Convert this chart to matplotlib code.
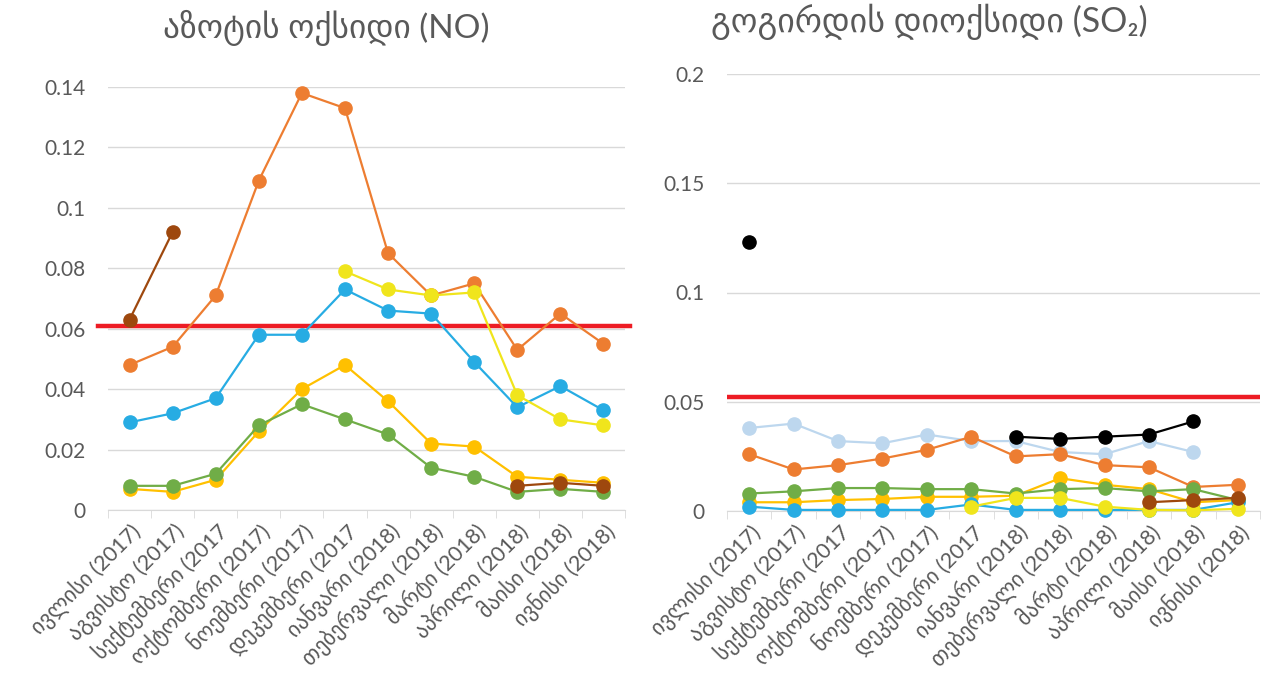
import numpy as np
import matplotlib
matplotlib.use("Agg")
import matplotlib.pyplot as plt
from matplotlib.ticker import FuncFormatter, FixedLocator

plt.rcParams['font.family'] = ['Lato', 'DejaVu Sans']

nan = np.nan

# month labels
months = ["ივლისი (2017)", "აგვისტო (2017)", "სექტემბერი (2017", "ოქტომბერი (2017)",
          "ნოემბერი (2017)", "დეკემბერი (2017", "იანვარი (2018)", "თებერვალი (2018)",
          "მარტი (2018)", "აპრილი (2018)", "მაისი (2018)", "ივნისი (2018)"]

# NO series
no_orange = [0.048, 0.054, 0.071, 0.109, 0.138, 0.133, 0.085, 0.071, 0.075, 0.053, 0.065, 0.055]
no_blue = [0.029, 0.032, 0.037, 0.058, 0.058, 0.073, 0.066, 0.065, 0.049, 0.034, 0.041, 0.033]
no_yellow = [nan, nan, nan, nan, nan, 0.079, 0.073, 0.071, 0.072, 0.038, 0.030, 0.028]
no_gold = [0.007, 0.006, 0.010, 0.026, 0.040, 0.048, 0.036, 0.022, 0.021, 0.011, 0.010, 0.009]
no_green = [0.008, 0.008, 0.012, 0.028, 0.035, 0.030, 0.025, 0.014, 0.011, 0.006, 0.007, 0.006]
no_brown = [0.063, 0.092, nan, nan, nan, nan, nan, nan, nan, 0.008, 0.009, 0.008]
no_limit = 0.061

# SO2 series
so2_lightblue = [0.038, 0.040, 0.032, 0.031, 0.035, 0.032, 0.032, 0.027, 0.026, 0.032, 0.027, nan]
so2_orange = [0.026, 0.019, 0.021, 0.024, 0.028, 0.034, 0.025, 0.026, 0.021, 0.020, 0.011, 0.012]
so2_gold = [0.004, 0.004, 0.005, 0.0055, 0.0065, 0.0065, 0.007, 0.015, 0.012, 0.010, 0.004, 0.005]
so2_green = [0.008, 0.009, 0.0105, 0.0105, 0.010, 0.010, 0.008, 0.010, 0.0105, 0.009, 0.010, 0.005]
so2_blue = [0.002, 0.0005, 0.0005, 0.0005, 0.0005, 0.003, 0.0005, 0.0005, 0.0005, 0.0005, 0.0005, 0.004]
so2_yellow = [nan, nan, nan, nan, nan, 0.002, 0.006, 0.006, 0.002, 0.0005, 0.0003, 0.001]
so2_brown = [nan, nan, nan, nan, nan, nan, nan, nan, nan, 0.004, 0.005, 0.006]
so2_black = [0.123, nan, nan, nan, nan, nan, 0.034, 0.033, 0.034, 0.035, 0.041, nan]
so2_limit = 0.052

c_orange = "#ED7D31"
c_blue = "#27ACE3"
c_yellow = "#F0E51C"
c_gold = "#FFC000"
c_green = "#70AD47"
c_brown = "#9E480E"
c_lightblue = "#BDD7EE"
c_black = "#000000"
c_red = "#ED1C24"
grey_text = "#595959"
grid_c = "#D9D9D9"

fig = plt.figure(figsize=(12.71, 6.8), dpi=100)
ax1 = fig.add_axes([108 / 1271, 1 - 510 / 680, 517 / 1271, 423 / 680])
ax2 = fig.add_axes([727 / 1271, 1 - 511 / 680, 533 / 1271, 437 / 680])

x = np.arange(len(months))


def style(ax, ymax, step):
    ax.set_xlim(-0.5, len(months) - 0.5)
    ax.set_ylim(0, ymax)
    ax.set_yticks(np.arange(0, ymax + step / 2, step))
    ax.yaxis.set_major_formatter(FuncFormatter(lambda v, p: f"{round(v, 3):g}"))
    ax.grid(axis='y', color=grid_c, linewidth=1)
    ax.set_axisbelow(True)
    for s in ['left', 'right', 'top']:
        ax.spines[s].set_visible(False)
    ax.spines['bottom'].set_color(grid_c)
    ax.set_xticks(x)
    ax.set_xticklabels(months, rotation=45, ha='right', rotation_mode='anchor',
                       fontsize=15.5, color=grey_text)
    ax.xaxis.set_minor_locator(FixedLocator(np.arange(-0.5, len(months), 1)))
    ax.tick_params(axis='x', which='major', length=0, pad=7)
    ax.tick_params(axis='x', which='minor', length=6, color=grid_c)
    ax.tick_params(axis='y', length=0, labelsize=15, labelcolor=grey_text, pad=16)


def series(ax, vals, color):
    ax.plot(x, vals, color=color, marker='o', markersize=9.5, linewidth=1.6,
            clip_on=False, zorder=3)


style(ax1, 0.14, 0.02)
ax1.axhline(no_limit, color=c_red, linewidth=3.2, zorder=2, xmin=-0.02, xmax=1.01, clip_on=False)
for vals, col in [(no_orange, c_orange), (no_blue, c_blue), (no_yellow, c_yellow),
                  (no_gold, c_gold), (no_green, c_green), (no_brown, c_brown)]:
    series(ax1, vals, col)

style(ax2, 0.2, 0.05)
ax2.axhline(so2_limit, color=c_red, linewidth=3.2, zorder=2)
for vals, col in [(so2_lightblue, c_lightblue), (so2_orange, c_orange), (so2_gold, c_gold),
                  (so2_green, c_green), (so2_blue, c_blue), (so2_yellow, c_yellow),
                  (so2_brown, c_brown), (so2_black, c_black)]:
    series(ax2, vals, col)

fig.text(326 / 1271, 1 - 28 / 680, "აზოტის ოქსიდი (NO)", ha='center', va='center',
         fontsize=24, color=grey_text)
fig.text(929 / 1271, 1 - 22 / 680, "გოგირდის დიოქსიდი (SO₂)", ha='center', va='center',
         fontsize=24.5, color=grey_text)

fig.savefig("out.png", dpi=100)
